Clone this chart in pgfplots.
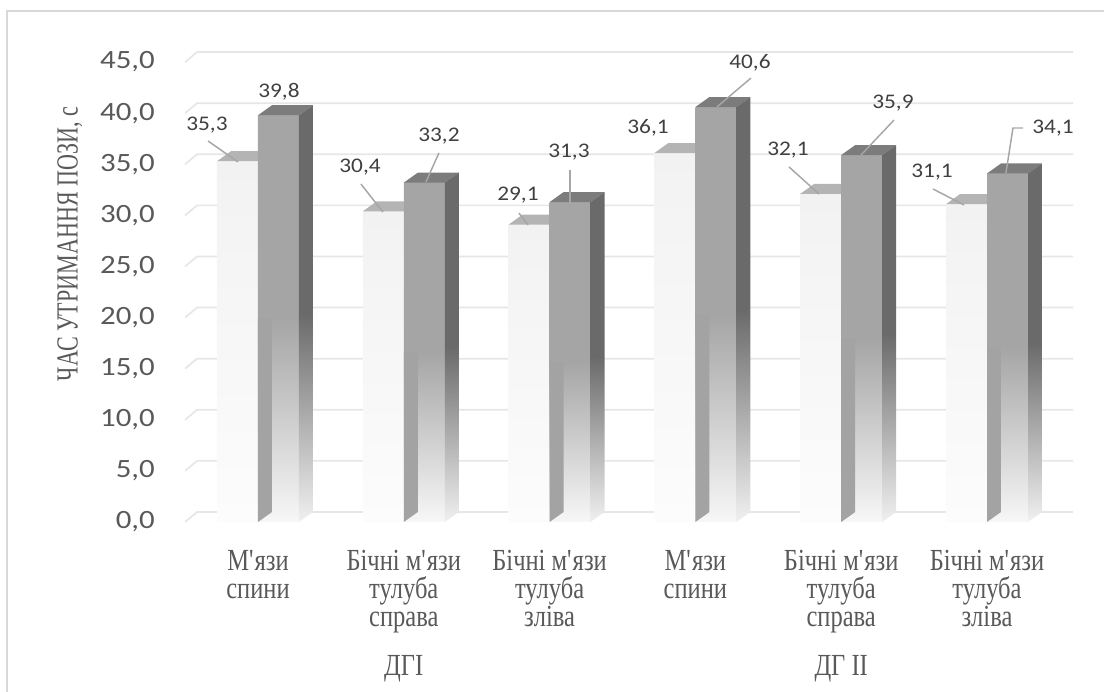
\documentclass[border=0pt]{standalone}
\usepackage{pgfplots}
\pgfplotsset{compat=1.18}
\usepackage{pgfplotstable}
\usepackage{fontspec}
\setmainfont{Liberation Serif}
\newfontfamily\calibT{Carlito}[FakeStretch=1.17]
\newfontfamily\calibD{Carlito}[FakeStretch=1.12]
\newfontfamily\serifc{Liberation Serif}[FakeStretch=0.80]
\newfontfamily\serify{Liberation Serif}[FakeStretch=0.72]

\definecolor{gridc}{HTML}{E6E6E6}
\definecolor{framec}{HTML}{D9D9D9}
\definecolor{tickc}{HTML}{595959}
\definecolor{labc}{HTML}{404040}
\definecolor{leadc}{HTML}{A6A6A6}
\definecolor{lightfront}{HTML}{F2F2F2}
\definecolor{lightbottom}{HTML}{FCFCFC}
\definecolor{lighttop}{HTML}{B4B4B4}
\definecolor{lightside}{HTML}{A3A3A3}
\definecolor{darkfront}{HTML}{A5A5A5}
\definecolor{darkbottom}{HTML}{F7F7F7}
\definecolor{darktop}{HTML}{7C7C7C}
\definecolor{darkside}{HTML}{6A6A6A}
\definecolor{darksidebottom}{HTML}{F0F0F0}

\newcommand{\pairbars}[3]{%
  \pgfmathsetmacro\xL{#1-0.2812}%
  \pgfmathsetmacro\xM{#1}%
  \pgfmathsetmacro\xR{#1+0.2812}%
  \pgfmathsetmacro\xLd{#1-0.2812+0.096}%
  \pgfmathsetmacro\xMd{#1+0.096}%
  \pgfmathsetmacro\xRd{#1+0.2812+0.096}%
  \pgfmathsetmacro\aT{#2+0.98}%
  \pgfmathsetmacro\bT{#3+0.98}%
  \pgfmathsetmacro\hS{#3*0.5}%
  \edef\tmp{%
    \noexpand\addplot[draw=none, top color=lightfront, bottom color=lightbottom] coordinates {(\xL,0) (\xM,0) (\xM,#2) (\xL,#2)};
    \noexpand\addplot[draw=none, fill=lighttop] coordinates {(\xL,#2) (\xM,#2) (\xMd,\aT) (\xLd,\aT)};
    \noexpand\addplot[draw=none, top color=darkfront, bottom color=darkbottom, middle color=darkfront] coordinates {(\xM,0) (\xR,0) (\xR,#3) (\xM,#3)};
    \noexpand\addplot[draw=none, fill=lightside] coordinates {(\xM,0) (\xMd,0.98) (\xMd,\hS) (\xM,\hS)};
    \noexpand\addplot[draw=none, fill=darktop] coordinates {(\xM,#3) (\xR,#3) (\xRd,\bT) (\xMd,\bT)};
    \noexpand\addplot[draw=none, top color=darkside, bottom color=darksidebottom, middle color=darkside] coordinates {(\xR,0) (\xRd,0.98) (\xRd,\bT) (\xR,#3)};
  }\tmp
}

\pgfplotstableread{
x y lab
-0.350 38.85 35,3
0.144 42.07 39,8
0.700 34.74 30,4
1.241 37.77 33,2
1.783 32.00 29,1
2.133 36.20 31,3
2.675 38.55 36,1
3.374 44.90 40,6
3.635 36.40 32,1
4.355 41.00 35,9
4.623 34.25 31,1
5.453 38.55 34,1
}\labtab

\begin{document}
\begin{tikzpicture}
\begin{axis}[
  x=109.35pt, y=7.665pt,
  xmin=-0.5, xmax=5.5, ymin=0, ymax=45,
  clip=false,
  axis line style={draw=none},
  major tick length=0pt,
  tick style={draw=none},
  ytick={0,5,...,45},
  yticklabel style={anchor=east, inner sep=0pt, xshift=-22.5pt,
    font=\calibT\fontsize{19.8}{24}\selectfont, text=tickc},
  y tick label style={/pgf/number format/fixed, /pgf/number format/fixed zerofill, /pgf/number format/precision=1, /pgf/number format/use comma, /pgf/number format/assume math mode=true},
  xtick={0,1,2,3,4,5},
  xticklabels={{М\textquotesingle язи\\спини},{Бічні м\textquotesingle язи\\тулуба\\справа},{Бічні м\textquotesingle язи\\тулуба\\зліва},{М\textquotesingle язи\\спини},{Бічні м\textquotesingle язи\\тулуба\\справа},{Бічні м\textquotesingle язи\\тулуба\\зліва}},
  xticklabel style={anchor=north, inner sep=0pt, yshift=-21pt, align=center,
    font=\serifc\fontsize{23}{21}\selectfont, text=tickc},
  extra x ticks={1,4},
  extra x tick labels={ДГІ,ДГ ІІ},
  extra x tick style={xticklabel style={yshift=-79pt}},
]
\draw[framec, line width=1pt] (axis cs:-1.7215,50.0) rectangle (axis cs:6.2,-20);
\addplot[gridc, line width=1.3pt] coordinates {(-0.5,0) (-0.418,0.98) (5.59,0.98)};
\addplot[gridc, line width=1.3pt] coordinates {(-0.5,5) (-0.418,5.98) (5.59,5.98)};
\addplot[gridc, line width=1.3pt] coordinates {(-0.5,10) (-0.418,10.98) (5.59,10.98)};
\addplot[gridc, line width=1.3pt] coordinates {(-0.5,15) (-0.418,15.98) (5.59,15.98)};
\addplot[gridc, line width=1.3pt] coordinates {(-0.5,20) (-0.418,20.98) (5.59,20.98)};
\addplot[gridc, line width=1.3pt] coordinates {(-0.5,25) (-0.418,25.98) (5.59,25.98)};
\addplot[gridc, line width=1.3pt] coordinates {(-0.5,30) (-0.418,30.98) (5.59,30.98)};
\addplot[gridc, line width=1.3pt] coordinates {(-0.5,35) (-0.418,35.98) (5.59,35.98)};
\addplot[gridc, line width=1.3pt] coordinates {(-0.5,40) (-0.418,40.98) (5.59,40.98)};
\addplot[gridc, line width=1.3pt] coordinates {(-0.5,45) (-0.418,45.98) (5.59,45.98)};
\pairbars{0}{35.3}{39.8}
\pairbars{1}{30.4}{33.2}
\pairbars{2}{29.1}{31.3}
\pairbars{3}{36.1}{40.6}
\pairbars{4}{32.1}{35.9}
\pairbars{5}{31.1}{34.1}
\addplot[leadc, line width=1.1pt] coordinates {(-0.343,37.28) (-0.137,35.23)};
\addplot[leadc, line width=1.1pt] coordinates {(0.706,33.07) (0.857,30.33)};
\addplot[leadc, line width=1.1pt] coordinates {(1.241,36.11) (1.152,33.27)};
\addplot[leadc, line width=1.1pt] coordinates {(1.790,30.23) (1.852,29.06)};
\addplot[leadc, line width=1.1pt] coordinates {(2.140,34.44) (2.140,31.21)};
\addplot[leadc, line width=1.1pt] coordinates {(3.381,43.44) (3.148,40.61)};
\addplot[leadc, line width=1.1pt] coordinates {(3.642,34.74) (3.848,32.09)};
\addplot[leadc, line width=1.1pt] coordinates {(4.362,39.33) (4.136,35.91)};
\addplot[leadc, line width=1.1pt] coordinates {(4.630,32.58) (4.842,31.02)};
\addplot[leadc, line width=1.1pt] coordinates {(5.247,38.55) (5.178,38.55) (5.130,34.15)};
\addplot[draw=none, nodes near coords, point meta=explicit symbolic,
  nodes near coords style={anchor=center, inner sep=0pt, font=\calibD\fontsize{15.6}{18}\selectfont, text=labc}]
  table[x=x, y=y, meta=lab] {\labtab};
\node[rotate=90, inner sep=0pt, font=\serify\fontsize{23}{26}\selectfont, text=tickc] at (axis cs:-1.29,27.2) {ЧАС УТРИМАННЯ ПОЗИ, с};
\coordinate (BL) at (axis cs:-1.7695,-16.634);
\coordinate (TR) at (axis cs:5.8025,51.076);
\end{axis}
\pgfresetboundingbox
\path[use as bounding box] (BL) rectangle (TR);
\end{tikzpicture}
\end{document}
